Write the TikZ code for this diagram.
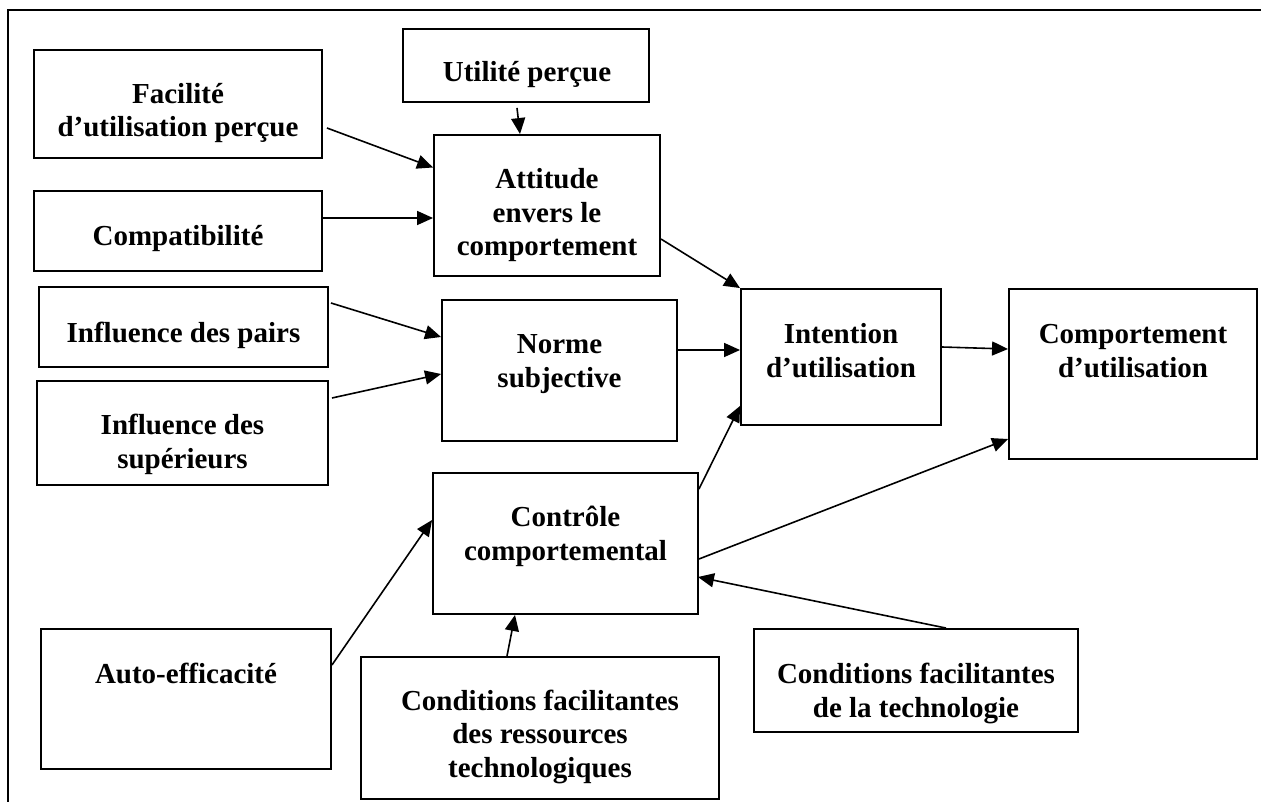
\documentclass[tikz,border=0pt]{standalone}
\usepackage{fontspec}
\setmainfont{Liberation Serif}
\usetikzlibrary{arrows.meta}
\begin{document}
\begin{tikzpicture}[x=1pt,y=-1pt,
  box/.style={draw, line width=1.9pt, inner sep=0pt, minimum width=#1},
  txt/.style={align=center, anchor=base, inner sep=0pt, font=\fontsize{29}{33.5}\selectfont\bfseries},
  arr/.style={line width=1.6pt, -{Triangle[length=16pt,width=14pt]}},
  frame/.style={line width=1.7pt}]
\useasboundingbox (0,0) rectangle (1261,802);
% frame
\coordinate (fbl) at (8,802);
\coordinate (ftl) at (8,10);
\coordinate (ftr) at (1261,10);
\draw[frame] (fbl) -- (ftl) -- (ftr);
% boxes
\node[box=288pt, minimum height=108pt] (fac) at (178,104) {};
\node[box=288pt, minimum height=80pt] (comp) at (178,231) {};
\node[box=246pt, minimum height=73pt] (util) at (526,65.5) {};
\node[box=226pt, minimum height=141pt] (att) at (547,205.5) {};
\node[box=289pt, minimum height=80pt] (pairs) at (183.5,327) {};
\node[box=291pt, minimum height=104pt] (sup) at (182.5,433) {};
\node[box=235pt, minimum height=141pt] (norm) at (559.5,370.5) {};
\node[box=200pt, minimum height=136pt] (int) at (841,357) {};
\node[box=248pt, minimum height=170pt] (beh) at (1133,374) {};
\node[box=265pt, minimum height=141pt] (ctrl) at (565.5,543.5) {};
\node[box=290pt, minimum height=140pt] (auto) at (186,699) {};
\node[box=358pt, minimum height=142pt] (ress) at (540,728) {};
\node[box=324pt, minimum height=103pt] (tech) at (916,680.5) {};
% texts (anchor = baseline of the last line)
\node[txt] (tfac) at (178,137) {Facilité\\d’utilisation perçue};
\node[txt] (tcomp) at (178,246) {Compatibilité};
\node[txt] (tutil) at (527,82) {Utilité perçue};
\node[txt] (tatt) at (547,256) {Attitude\\envers le\\comportement};
\node[txt] (tpairs) at (183.5,342) {Influence des pairs};
\node[txt] (tsup) at (182.5,468) {Influence des\\supérieurs};
\node[txt] (tnorm) at (559.5,387) {Norme\\subjective};
\node[txt] (tint) at (841,377) {Intention\\d’utilisation};
\node[txt] (tbeh) at (1133,377) {Comportement\\d’utilisation};
\node[txt] (tctrl) at (565.5,560) {Contrôle\\comportemental};
\node[txt] (tauto) at (186,683) {Auto-efficacité};
\node[txt] (tress) at (540,777) {Conditions facilitantes\\des ressources\\technologiques};
\node[txt] (ttech) at (916,717) {Conditions facilitantes\\de la technologie};
% arrows
\draw[arr] ([xshift=4pt,yshift=-24pt]fac.east) -- ([yshift=38pt]att.west);
\draw[arr] ([yshift=13pt]comp.east) -- ([yshift=-12.5pt]att.west);
\draw[arr] ([xshift=-9pt,yshift=-5pt]util.south) -- ([xshift=-27pt]att.north);
\draw[arr] ([yshift=-33.5pt]att.east) -- (int.north west);
\draw[arr] ([xshift=2pt,yshift=24pt]pairs.east) -- ([yshift=33.5pt]norm.west);
\draw[arr] ([xshift=3pt,yshift=35pt]sup.east) -- ([yshift=-3.5pt]norm.west);
\draw[arr] ([yshift=20.5pt]norm.east) -- ([yshift=7pt]int.west);
\draw[arr] ([yshift=-17pt]ctrl.north east) -- ([yshift=20pt]int.south west);
\draw[arr] ([yshift=10pt]int.east) -- ([yshift=25pt]beh.west);
\draw[arr] ([yshift=-15.5pt]ctrl.east) -- ([yshift=-65pt]beh.west);
\draw[arr] ([yshift=34pt]auto.east) -- ([yshift=23.5pt]ctrl.west);
\draw[arr] ([xshift=-33pt]ress.north) -- ([xshift=-50.5pt]ctrl.south);
\draw[arr] ([xshift=30pt]tech.north) -- ([xshift=-1pt,yshift=-33.5pt]ctrl.east);
\end{tikzpicture}
\end{document}
